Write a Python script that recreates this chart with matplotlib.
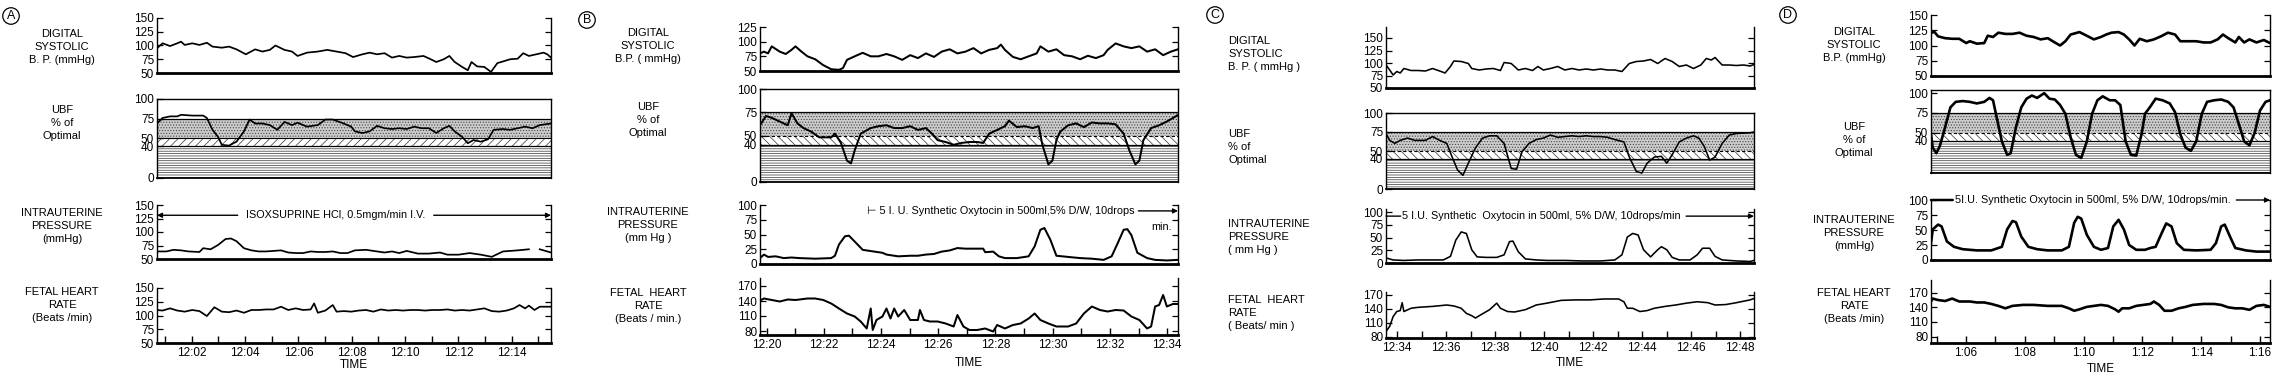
import matplotlib
matplotlib.use('Agg')
import matplotlib.pyplot as plt

plt.rcParams['font.family'] = ['Liberation Sans', 'DejaVu Sans']
plt.rcParams['hatch.linewidth'] = 0.5

W, H = 2284, 376

# ---- data: (minute past the hour, value) ----
# panel A  (12:00 - 12:15)
a_bp = [(0.70,95),(0.91,104),(1.19,99),(1.46,104),(1.60,107),(1.74,101),(2.02,104),(2.29,101),(2.57,105),(2.78,98),
        (3.13,96),(3.40,98),(3.68,93),(4.03,84),(4.38,93),(4.65,89),(4.93,92),(5.14,100),(5.48,92),(5.76,89),
        (5.97,81),(6.32,87),(6.73,89),(7.08,92),(7.43,89),(7.77,86),(8.05,79),(8.40,84),(8.67,87),(8.95,84),
        (9.23,86),(9.51,78),(9.78,81),(10.06,78),(10.34,79),(10.69,81),(10.96,75),(11.17,70),(11.45,75),(11.66,81),
        (11.86,70),(12.14,61),(12.35,55),(12.49,70),(12.70,62),(12.97,61),(13.22,52),(13.46,68),(13.67,71),(13.94,75),
        (14.22,76),(14.43,86),(14.64,81),(14.92,84),(15.19,87),(15.33,84),(15.47,78)]
a_ubf = [(0.70,69),(0.91,76),(1.19,78),(1.46,78),(1.60,80),(2.02,79),(2.43,79),(2.57,76),(2.78,61),(2.99,52),
         (3.13,42),(3.40,41),(3.68,46),(3.96,59),(4.17,74),(4.38,69),(4.65,69),(4.93,67),(5.21,61),(5.48,71),
         (5.76,67),(5.97,70),(6.32,65),(6.73,67),(7.01,74),(7.29,74),(7.70,69),(7.98,65),(8.12,59),(8.40,57),
         (8.67,59),(8.95,66),(9.23,63),(9.51,62),(9.78,63),(10.06,62),(10.34,65),(10.62,63),(10.89,63),(11.17,57),
         (11.45,63),(11.66,66),(11.86,59),(12.14,52),(12.35,44),(12.56,48),(12.84,46),(13.11,49),(13.32,61),(13.67,62),
         (13.94,61),(14.22,63),(14.50,65),(14.78,63),(15.05,67),(15.47,69)]
a_iup = [(0.70,64),(1.05,64),(1.32,67),(1.60,66),(1.88,64),(2.29,63),(2.43,70),(2.71,68),(2.99,76),(3.27,87),
         (3.47,88),(3.68,83),(3.96,70),(4.24,66),(4.51,64),(4.79,64),(5.07,65),(5.35,66),(5.62,62),(5.90,61),
         (6.18,61),(6.46,64),(6.73,63),(7.01,63),(7.29,64),(7.57,61),(7.84,61),(8.12,66),(8.54,67),(8.81,65),
         (9.23,62),(9.51,64),(9.78,61),(10.06,65),(10.48,60),(10.89,60),(11.31,62),(11.59,58),(12.00,58),(12.42,61),
         (12.84,58),(13.25,54),(13.67,64),(14.22,66),(14.64,68),(14.75,float('nan')),(15.05,68),(15.47,62)]
a_fhr = [(0.70,110),(0.91,109),(1.19,113),(1.46,109),(1.74,107),(2.02,110),(2.29,108),(2.57,99),(2.85,115),(3.13,107),
         (3.40,106),(3.68,109),(3.96,105),(4.24,110),(4.51,110),(4.79,111),(5.07,111),(5.35,116),(5.62,110),(5.90,113),
         (6.18,110),(6.46,111),(6.59,122),(6.73,105),(7.01,109),(7.29,119),(7.43,107),(7.70,108),(7.98,107),(8.26,109),
         (8.54,110),(8.81,107),(9.09,111),(9.37,109),(9.65,110),(9.92,109),(10.20,110),(10.48,110),(10.75,109),(11.03,110),
         (11.31,110),(11.59,111),(11.86,109),(12.14,110),(12.42,109),(12.70,111),(12.97,113),(13.25,108),(13.53,107),(13.81,109),
         (14.08,113),(14.29,119),(14.50,113),(14.64,118),(14.85,110),(15.05,116),(15.47,116)]

# panel B  (12:20 - 12:34)
b_bp = [(19.77,80),(19.91,83),(20.05,80),(20.18,92),(20.46,83),(20.67,79),(20.87,86),(21.01,92),(21.22,83),(21.43,75),
        (21.70,70),(21.98,60),(22.26,53),(22.53,52),(22.67,55),(22.81,69),(23.08,75),(23.36,81),(23.64,75),(23.91,75),
        (24.19,79),(24.46,75),(24.74,69),(25.02,77),(25.29,72),(25.57,80),(25.85,74),(26.12,83),(26.40,87),(26.67,80),
        (26.95,83),(27.23,89),(27.50,80),(27.78,86),(28.06,89),(28.19,95),(28.33,86),(28.61,74),(28.88,70),(29.16,75),
        (29.44,80),(29.57,92),(29.85,83),(30.13,87),(30.40,77),(30.68,75),(30.96,70),(31.23,76),(31.51,72),(31.78,77),
        (31.92,86),(32.20,97),(32.48,92),(32.75,89),(33.03,92),(33.30,83),(33.58,87),(33.86,77),(34.13,83),(34.38,87)]
b_ubf = [(19.77,61),(19.98,71),(20.18,69),(20.46,65),(20.74,61),(20.87,74),(21.08,63),(21.29,58),(21.57,54),(21.84,48),
         (22.26,48),(22.39,52),(22.60,42),(22.81,23),(22.95,20),(23.08,34),(23.29,52),(23.64,58),(23.91,60),(24.19,61),
         (24.46,58),(24.74,58),(25.02,60),(25.29,56),(25.57,58),(25.78,52),(25.98,45),(26.26,43),(26.54,40),(26.81,42),
         (27.09,43),(27.36,43),(27.57,42),(27.78,52),(28.06,56),(28.33,60),(28.47,66),(28.75,59),(29.02,60),(29.30,58),
         (29.51,60),(29.64,40),(29.85,19),(29.99,23),(30.13,45),(30.26,54),(30.54,61),(30.82,63),(31.09,59),(31.37,64),
         (31.65,63),(31.92,63),(32.20,62),(32.48,52),(32.68,34),(32.89,19),(33.03,23),(33.17,45),(33.44,58),(33.72,61),
         (33.99,65),(34.38,72)]
b_iup = [(19.77,10),(19.91,16),(20.05,12),(20.32,13),(20.60,10),(20.87,11),(21.15,10),(21.70,9),(22.26,10),(22.39,14),
         (22.53,33),(22.74,47),(22.88,48),(23.08,38),(23.36,24),(23.77,21),(24.05,19),(24.19,16),(24.60,13),(25.02,14),
         (25.29,14),(25.57,16),(25.85,17),(26.12,21),(26.40,23),(26.67,27),(26.95,26),(27.23,26),(27.57,26),(27.64,20),
         (27.92,21),(28.12,13),(28.33,10),(28.75,10),(29.16,13),(29.37,30),(29.57,58),(29.71,61),(29.92,41),(30.13,14),
         (30.54,12),(30.96,10),(31.37,9),(31.78,7),(32.06,13),(32.27,35),(32.48,58),(32.61,59),(32.75,49),(32.96,19),
         (33.30,10),(33.58,7),(33.99,6),(34.38,7)]
b_fhr = [(19.77,141),(19.91,145),(20.18,142),(20.46,139),(20.74,143),(21.01,142),(21.43,145),(21.70,145),(21.98,142),(22.26,135),
         (22.53,125),(22.81,115),(23.08,109),(23.29,99),(23.50,85),(23.64,125),(23.71,82),(23.84,102),(24.05,109),(24.19,125),
         (24.33,105),(24.46,125),(24.60,109),(24.81,122),(25.02,102),(25.29,102),(25.36,122),(25.50,102),(25.71,99),(25.98,99),
         (26.26,95),(26.54,89),(26.67,112),(26.88,89),(27.09,82),(27.36,82),(27.64,85),(27.92,79),(28.06,92),(28.33,85),
         (28.61,92),(28.88,95),(29.16,105),(29.37,115),(29.57,102),(29.85,95),(30.13,89),(30.54,89),(30.82,95),(31.09,115),
         (31.37,129),(31.65,122),(31.92,119),(32.20,122),(32.48,121),(32.75,109),(33.03,102),(33.30,85),(33.44,89),(33.58,129),
         (33.72,132),(33.86,152),(33.99,129),(34.20,134),(34.38,134)]

# panel C  (12:34 - 12:48)
c_bp = [(33.55,96),(33.70,86),(33.84,76),(33.99,83),(34.13,80),(34.28,89),(34.57,85),(34.86,85),(35.16,84),(35.45,89),
        (35.74,84),(35.96,80),(36.18,93),(36.32,104),(36.62,103),(36.91,99),(37.05,89),(37.35,86),(37.64,88),(37.93,89),
        (38.22,85),(38.37,101),(38.66,99),(38.95,86),(39.24,89),(39.53,85),(39.75,93),(39.97,86),(40.26,89),(40.56,93),
        (40.85,86),(41.14,89),(41.43,86),(41.72,88),(42.02,86),(42.31,88),(42.60,86),(42.89,86),(43.18,83),(43.48,99),
        (43.77,103),(44.06,104),(44.35,107),(44.64,99),(44.94,109),(45.23,103),(45.52,93),(45.81,96),(46.10,89),(46.40,96),
        (46.62,109),(46.83,106),(46.98,111),(47.27,96),(47.56,96),(47.85,95),(48.15,96),(48.41,94),(48.57,97)]
c_ubf = [(33.55,73),(33.70,64),(33.91,60),(34.13,64),(34.43,67),(34.72,64),(35.16,64),(35.45,69),(35.74,64),(36.03,60),
         (36.25,42),(36.47,25),(36.69,18),(36.91,34),(37.20,54),(37.49,67),(37.78,70),(38.07,70),(38.37,60),(38.66,27),
         (38.88,26),(39.10,49),(39.39,60),(39.68,65),(39.97,67),(40.26,71),(40.56,68),(40.85,69),(41.14,70),(41.43,69),
         (41.72,70),(42.02,69),(42.31,69),(42.60,68),(42.89,65),(43.26,62),(43.48,42),(43.77,23),(43.99,21),(44.21,34),
         (44.50,42),(44.79,43),(45.01,34),(45.23,45),(45.52,62),(45.81,67),(46.10,70),(46.32,67),(46.54,56),(46.76,38),
         (46.98,42),(47.27,60),(47.56,71),(47.85,73),(48.41,74),(48.57,75)]
c_iup = [(33.55,10),(33.84,6),(34.28,5),(34.86,6),(35.45,6),(35.89,6),(36.18,13),(36.40,45),(36.62,61),(36.83,58),
         (37.05,26),(37.27,12),(37.64,11),(38.07,11),(38.37,16),(38.59,42),(38.73,43),(38.95,22),(39.24,8),(39.68,6),
         (40.12,5),(40.85,5),(41.58,4),(42.31,4),(42.89,6),(43.18,16),(43.40,51),(43.62,58),(43.84,55),(44.06,26),
         (44.35,12),(44.64,26),(44.79,32),(45.01,26),(45.23,11),(45.52,6),(45.96,6),(46.25,16),(46.47,29),(46.76,29),
         (46.98,13),(47.27,6),(47.85,4),(48.41,3),(48.57,5)]
c_fhr = [(33.55,91),(33.70,102),(33.84,123),(33.99,134),(34.13,136),(34.21,153),(34.28,134),(34.57,141),(34.86,143),(35.45,145),
         (36.03,148),(36.32,146),(36.62,141),(36.83,130),(37.05,125),(37.20,120),(37.42,127),(37.78,138),(38.07,152),(38.22,141),
         (38.51,134),(38.80,133),(39.24,138),(39.68,148),(40.12,152),(40.70,158),(41.29,159),(41.87,159),(42.45,161),(43.04,161),
         (43.26,155),(43.40,141),(43.62,141),(43.91,134),(44.21,136),(44.50,141),(44.94,145),(45.37,148),(45.81,152),(46.25,155),
         (46.69,153),(46.98,148),(47.42,149),(47.85,153),(48.41,159),(48.57,162)]

# panel D  (1:05 - 1:16)
d_bp = [(4.81,121),(4.93,122),(5.05,115),(5.29,112),(5.53,111),(5.77,111),(6.01,104),(6.13,107),(6.37,103),(6.62,104),
        (6.74,116),(6.92,114),(7.10,121),(7.34,119),(7.58,119),(7.82,121),(8.06,116),(8.30,114),(8.54,110),(8.78,112),
        (9.02,105),(9.20,100),(9.38,107),(9.56,118),(9.86,122),(10.11,116),(10.35,110),(10.59,114),(10.77,118),(10.95,121),
        (11.19,122),(11.37,118),(11.55,110),(11.73,100),(11.91,111),(12.15,107),(12.39,110),(12.63,115),(12.87,121),(13.11,118),
        (13.29,107),(13.59,107),(13.83,107),(14.08,105),(14.32,105),(14.56,110),(14.74,118),(14.92,112),(15.16,105),(15.28,114),
        (15.46,105),(15.64,110),(15.88,105),(16.13,109),(16.34,104)]
d_ubf = [(4.81,48),(4.87,31),(4.99,24),(5.11,33),(5.29,57),(5.47,82),(5.65,89),(5.89,90),(6.13,89),(6.37,87),
         (6.62,89),(6.80,94),(6.92,91),(7.04,70),(7.22,39),(7.40,22),(7.52,24),(7.70,57),(7.88,82),(8.06,93),
         (8.24,97),(8.42,94),(8.54,97),(8.66,100),(8.84,93),(9.02,92),(9.20,85),(9.38,74),(9.56,44),(9.74,22),
         (9.92,18),(10.11,39),(10.29,74),(10.47,91),(10.65,96),(10.89,91),(11.07,91),(11.25,85),(11.43,39),(11.61,22),
         (11.79,21),(11.97,48),(12.09,74),(12.27,83),(12.45,93),(12.69,91),(12.93,87),(13.11,76),(13.29,48),(13.47,31),
         (13.65,27),(13.83,39),(14.02,74),(14.20,89),(14.44,91),(14.68,92),(14.92,89),(15.10,82),(15.28,61),(15.46,39),
         (15.64,34),(15.82,50),(16.00,78),(16.19,89),(16.34,91)]
d_iup = [(4.81,28),(4.87,51),(5.05,59),(5.17,56),(5.35,31),(5.59,22),(5.89,18),(6.37,16),(6.86,16),(7.22,22),
         (7.40,51),(7.58,65),(7.70,63),(7.88,39),(8.12,22),(8.42,18),(8.78,16),(9.26,16),(9.50,22),(9.68,62),
         (9.80,72),(9.92,69),(10.11,42),(10.35,22),(10.59,17),(10.83,20),(11.01,56),(11.19,67),(11.37,51),(11.55,25),
         (11.79,17),(12.09,17),(12.27,20),(12.45,22),(12.63,42),(12.81,61),(12.99,56),(13.17,28),(13.41,17),(13.83,16),
         (14.32,17),(14.50,28),(14.68,56),(14.80,59),(14.98,39),(15.16,20),(15.52,16),(15.88,14),(16.34,14)]
d_fhr = [(4.81,152),(4.87,158),(5.05,155),(5.29,153),(5.53,158),(5.77,152),(6.13,152),(6.37,150),(6.62,150),(6.86,147),
         (7.10,143),(7.34,138),(7.58,143),(7.94,145),(8.30,145),(8.78,143),(9.26,143),(9.50,138),(9.68,133),(9.86,136),
         (10.11,141),(10.35,143),(10.59,145),(10.83,143),(11.07,136),(11.19,131),(11.31,138),(11.55,138),(11.79,143),(12.03,145),
         (12.27,147),(12.39,152),(12.57,145),(12.75,133),(12.99,133),(13.23,138),(13.47,141),(13.71,145),(14.08,147),(14.44,147),
         (14.68,145),(14.92,140),(15.16,138),(15.40,138),(15.64,135),(15.88,143),(16.13,145),(16.34,141)]

row_names = {
    'A': ["DIGITAL\nSYSTOLIC\nB. P. (mmHg)", "UBF\n% of\nOptimal", "INTRAUTERINE\nPRESSURE\n(mmHg)", "FETAL HEART\nRATE\n(Beats /min)"],
    'B': ["DIGITAL\nSYSTOLIC\nB.P. ( mmHg)", "UBF\n% of\nOptimal", "INTRAUTERINE\nPRESSURE\n(mm Hg )", "FETAL  HEART\nRATE\n(Beats / min.)"],
    'C': ["DIGITAL\nSYSTOLIC\nB. P. ( mmHg )", "UBF\n% of\nOptimal", "INTRAUTERINE\nPRESSURE\n( mm Hg )", "FETAL  HEART\nRATE\n( Beats/ min )"],
    'D': ["DIGITAL\nSYSTOLIC\nB.P. (mmHg)", "UBF\n% of\nOptimal", "INTRAUTERINE\nPRESSURE\n(mmHg)", "FETAL HEART\nRATE\n(Beats /min)"],
}
oxy_b = "\u22a2 5 I. U. Synthetic Oxytocin in 500ml,5% D/W, 10drops"
oxy_c = "5 I.U. Synthetic  Oxytocin in 500ml, 5% D/W, 10drops/min"
oxy_d = "5I.U. Synthetic Oxytocin in 500ml, 5% D/W, 10drops/min."
iso_a = "ISOXSUPRINE HCl, 0.5mgm/min I.V."

fig = plt.figure(figsize=(W / 100, H / 100), dpi=100)
fs = 8       # row labels
tfs = 8.5    # tick labels
afs = 7.8    # drug annotations


def add_box(x0, x1, top, bot):
    return fig.add_axes([x0 / W, 1 - bot / H, (x1 - x0) / W, (bot - top) / H])


def ftext(x, y, s, size=fs, **kw):
    fig.text(x / W, 1 - y / H, s, fontsize=size, **kw)


# layout of each panel: axes x range (px), xlim, hour, rows (top, bottom, ylim, yticks)
panels = [
    dict(name='A', x0=157, x1=551, xlim=(0.70, 15.47), hour=12, lw=1.25, hatch='////',
         rows=[(18, 73, (50, 150), [50, 75, 100, 125, 150]),
               (99, 178, (0, 100), [0, 40, 50, 75, 100]),
               (205, 259, (50, 150), [50, 75, 100, 125, 150]),
               (288, 343, (50, 150), [50, 75, 100, 125, 150])],
         data=[a_bp, a_ubf, a_iup, a_fhr],
         letter=(11, 16), labx=62, laby=[47, 123, 226, 305], ha='center', timey=365),
    dict(name='B', x0=760, x1=1178, xlim=(19.77, 34.38), hour=12, lw=1.45, hatch='\\\\\\\\',
         rows=[(27, 71, (50, 125), [50, 75, 100, 125]),
               (89, 182, (0, 100), [0, 40, 50, 75, 100]),
               (205, 264, (0, 100), [0, 25, 50, 75, 100]),
               (278, 335, (72, 186), [80, 110, 140, 170])],
         data=[b_bp, b_ubf, b_iup, b_fhr],
         letter=(587, 20), labx=648, laby=[46, 120, 225, 306], ha='center', timey=363),
    dict(name='C', x0=1386, x1=1754, xlim=(33.55, 48.57), hour=12, lw=1.15, hatch='\\\\\\\\',
         rows=[(27, 88, (50, 172), [50, 75, 100, 125, 150]),
               (113, 189, (0, 100), [0, 40, 50, 75, 100]),
               (209, 263, (0, 106), [0, 25, 50, 75, 100]),
               (292, 338, (77, 176), [80, 110, 140, 170])],
         data=[c_bp, c_ubf, c_iup, c_fhr],
         letter=(1215, 15), labx=1228, laby=[54, 147, 237, 313], ha='left', timey=363),
    dict(name='D', x0=1931, x1=2270, xlim=(4.81, 16.34), hour=1, lw=1.9, hatch='\\\\\\\\',
         rows=[(15, 76, (50, 150), [50, 75, 100, 125, 150]),
               (90, 173, (-1, 104), [40, 50, 75, 100]),
               (200, 260, (0, 100), [0, 25, 50, 75, 100]),
               (280, 343, (67, 196), [80, 110, 140, 170])],
         data=[d_bp, d_ubf, d_iup, d_fhr],
         letter=(1788, 15), labx=1854, laby=[45, 140, 233, 306], ha='center', timey=369),
]

axes = {}
for p in panels:
    for i, (top, bot, ylim, yt) in enumerate(p['rows']):
        ax = add_box(p['x0'], p['x1'], top, bot)
        axes[(p['name'], i)] = ax
        ax.set_xlim(*p['xlim'])
        ax.set_ylim(*ylim)
        ax.set_yticks(yt)
        ax.set_yticklabels([str(v) for v in yt])
        t = [q[0] for q in p['data'][i]]
        v = [q[1] for q in p['data'][i]]
        ax.plot(t, v, color='k', lw=p['lw'], zorder=3, solid_joinstyle='round')
        ubf = (i == 1)
        ax.tick_params(axis='y', direction='in', length=4, width=0.9, labelsize=tfs, pad=2,
                       right=not ubf)
        for s in ['left', 'right']:
            ax.spines[s].set_linewidth(1.0)
        ax.spines['bottom'].set_linewidth(1.3 if ubf else 2.0)
        if ubf:
            ax.spines['top'].set_linewidth(1.0)
            ax.axhspan(50, 75, facecolor='#cccccc', edgecolor='#444444', hatch='......', lw=0, zorder=0)
            ax.axhspan(40, 50, facecolor='white', edgecolor='#333333', hatch=p['hatch'], lw=0, zorder=0)
            ax.axhspan(ylim[0], 40, facecolor='white', edgecolor='#333333', hatch='-------', lw=0, zorder=0)
            ax.axhline(75, color='k', lw=0.9, zorder=1)
            ax.axhline(50, color='k', lw=0.8, ls='-' if p['name'] == 'A' else (0, (3, 2)), zorder=1)
            ax.axhline(40, color='k', lw=0.9, zorder=1)
        else:
            ax.spines['top'].set_visible(False)
        if i == 3:
            lo, hi = p['xlim']
            mins = list(range(int(lo) + 1, int(hi) + 1))
            ax.set_xticks(mins)
            ax.set_xticklabels([f"{p['hour']}:{m:02d}" if m % 2 == 0 else '' for m in mins])
            ax.tick_params(axis='x', direction='in', length=5, width=1.0, labelsize=tfs, pad=3)
        else:
            ax.set_xticks([])
        ftext(p['labx'], p['laby'][i], row_names[p['name']][i], ha=p['ha'], va='center',
              linespacing=1.35, multialignment=p['ha'])
    ftext(p['letter'][0], p['letter'][1], p['name'], size=9, ha='center', va='center',
          bbox=dict(boxstyle='circle,pad=0.18', fc='none', ec='k', lw=0.9))
    ftext((p['x0'] + p['x1']) / 2, p['timey'], 'TIME', size=tfs, ha='center', va='center')

# drug annotations on the intrauterine pressure rows
arr = dict(arrowstyle='-|>', color='k', lw=1.0, mutation_scale=7, shrinkB=0)
ax = axes[('A', 2)]
ax.annotate(iso_a, xy=(0.70, 131), xytext=(7.4, 131), ha='center', va='center', fontsize=afs,
            arrowprops=dict(arr, relpos=(0, 0.5), shrinkA=4))
ax.annotate(iso_a, xy=(15.47, 131), xytext=(7.4, 131), ha='center', va='center', fontsize=afs,
            color='none', arrowprops=dict(arr, relpos=(1, 0.5), shrinkA=4))

ax = axes[('B', 2)]
ax.annotate(oxy_b, xy=(34.38, 90), xytext=(23.5, 90), ha='left', va='center', fontsize=afs,
            arrowprops=dict(arr, relpos=(1, 0.5), shrinkA=1))
ax.text(34.15, 62, 'min.', ha='right', va='center', fontsize=afs)

ax = axes[('C', 2)]
ax.annotate(oxy_c, xy=(48.57, 92), xytext=(34.2, 92), ha='left', va='center', fontsize=afs,
            arrowprops=dict(arr, relpos=(1, 0.5), shrinkA=2))
ax.annotate('', xy=(33.55, 92), xytext=(34.15, 92),
            arrowprops=dict(arrowstyle='-', color='k', lw=1.0, shrinkA=0, shrinkB=0))

ax = axes[('D', 2)]
ax.annotate(oxy_d, xy=(16.34, 100), xytext=(5.63, 100), ha='left', va='center', fontsize=afs,
            arrowprops=dict(arr, relpos=(1, 0.5), shrinkA=2), annotation_clip=False)
ax.annotate('', xy=(4.81, 100), xytext=(5.55, 100), annotation_clip=False,
            arrowprops=dict(arrowstyle='-', color='k', lw=1.8, shrinkA=0, shrinkB=0))

fig.savefig('out.png', dpi=100)
